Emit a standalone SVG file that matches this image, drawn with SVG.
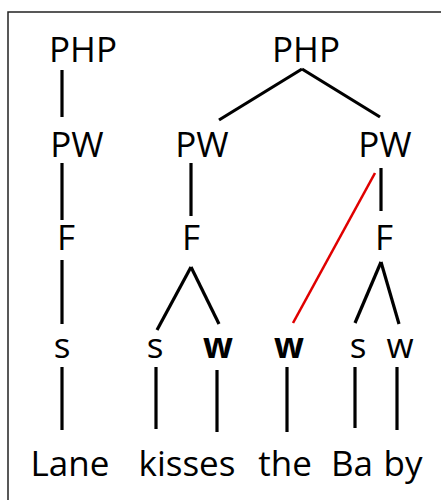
<svg xmlns="http://www.w3.org/2000/svg" width="441" height="500" viewBox="0 0 441 500">
<style>
text{font-family:"Open Sans","Liberation Sans",sans-serif;font-size:35px;font-weight:500;fill:#000;text-anchor:middle}
.b{font-weight:bold}
.e line{stroke:#000;stroke-width:3.2;stroke-linecap:butt}
.e line.red{stroke:#e00000;stroke-width:2.6}
.frame{fill:none;stroke:#222;stroke-width:1.5}
</style>
<rect width="441" height="500" fill="#fff"/>
<path class="frame" d="M8,500 V12 H441"/>
<g class="e" id="connectors">
<line x1="62" y1="70" x2="62" y2="117"/>
<line x1="302" y1="69" x2="219" y2="120"/>
<line x1="302" y1="69" x2="380" y2="117"/>
<line x1="62" y1="163" x2="62" y2="220"/>
<line x1="191" y1="163" x2="191" y2="216"/>
<line x1="381" y1="168" x2="381" y2="211"/>
<line x1="62" y1="260" x2="62" y2="324"/>
<line x1="191" y1="267" x2="157" y2="330"/>
<line x1="191" y1="267" x2="219" y2="324"/>
<line x1="381" y1="262" x2="355" y2="323"/>
<line x1="381" y1="262" x2="399" y2="324"/>
<line class="red" x1="375" y1="173" x2="293" y2="323"/>
<line x1="62" y1="367" x2="62" y2="430"/>
<line x1="156" y1="367" x2="156" y2="429"/>
<line x1="217" y1="370" x2="217" y2="432"/>
<line x1="287" y1="367" x2="287" y2="432"/>
<line x1="355" y1="367" x2="355" y2="428"/>
<line x1="397" y1="367" x2="397" y2="430"/>
</g>
<g id="php1"><text x="83" y="62">PHP</text></g>
<g id="php2"><text x="306" y="62">PHP</text></g>
<g id="pw1"><text x="77" y="157">PW</text></g>
<g id="pw2"><text x="202" y="157">PW</text></g>
<g id="pw3"><text x="385" y="157">PW</text></g>
<g id="f1"><text x="66" y="250">F</text></g>
<g id="f2"><text x="191" y="250">F</text></g>
<g id="f3"><text x="384" y="250">F</text></g>
<g id="s1"><text x="62" y="358">s</text></g>
<g id="s2"><text x="155" y="358">s</text></g>
<g id="w1"><text class="b" x="218" y="358">w</text></g>
<g id="w2"><text class="b" x="289" y="358">w</text></g>
<g id="s3"><text x="358" y="358">s</text></g>
<g id="w3"><text x="400" y="358">w</text></g>
<g id="lane"><text x="70" y="476">Lane</text></g>
<g id="kisses"><text x="187" y="476">kisses</text></g>
<g id="the"><text x="285" y="476">the</text></g>
<g id="ba"><text x="352" y="476">Ba</text></g>
<g id="by"><text x="403" y="476">by</text></g>
</svg>
